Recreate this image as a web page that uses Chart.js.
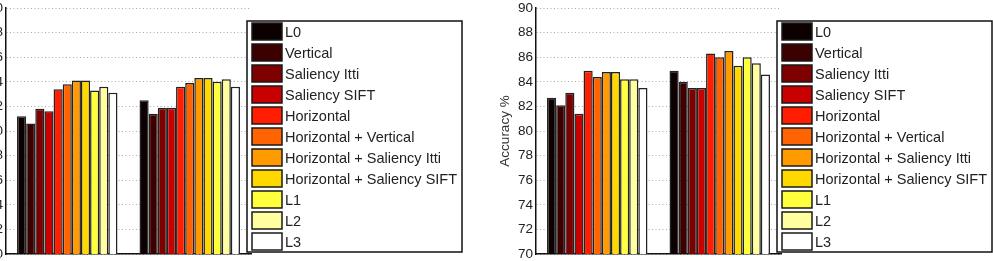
<!DOCTYPE html>
<html>
<head>
<meta charset="utf-8">
<script src="https://cdn.jsdelivr.net/npm/chart.js@4"></script>
<style>
  html, body { margin: 0; padding: 0; background: #fff; overflow: hidden; }
  body { width: 993px; height: 261px; position: relative; }
  .box { position: absolute; top: 0; width: 500px; height: 261px; }
  #leftBox { left: -37px; }
  #rightBox { left: 493px; }
</style>
</head>
<body>
<div class="box" id="leftBox"><canvas id="chart1"></canvas></div>
<div class="box" id="rightBox"><canvas id="chart2"></canvas></div>
<script>
const groups = ["1", "2"];
const methods = ["L0", "Vertical", "Saliency Itti", "Saliency SIFT", "Horizontal",
  "Horizontal + Vertical", "Horizontal + Saliency Itti", "Horizontal + Saliency SIFT", "L1", "L2", "L3"];
const colors = ["#0c0000", "#3c0000", "#7e0000", "#c80000", "#ff1e00",
  "#ff6400", "#ff9a00", "#ffd800", "#ffff3c", "#ffffa0", "#ffffff"];

// accuracy % per method, first and second group
const leftGroup1 = [81.2, 80.6, 81.8, 81.6, 83.4, 83.8, 84.1, 84.1, 83.3, 83.6, 83.1];
const leftGroup2 = [82.5, 81.4, 81.9, 81.9, 83.6, 83.9, 84.3, 84.3, 84.0, 84.2, 83.6];
const rightGroup1 = [82.7, 82.1, 83.1, 81.4, 84.9, 84.4, 84.8, 84.8, 84.2, 84.2, 83.5];
const rightGroup2 = [84.9, 84.0, 83.5, 83.5, 86.3, 86.0, 86.5, 85.3, 86.0, 85.5, 84.6];

const FONT = "'Liberation Sans', Arial, sans-serif";

// legend box drawn inside the plot, like the matlab one
const boxLegend = {
  id: "boxLegend",
  afterDraw(chart) {
    const ctx = chart.ctx;
    const x = 284, y = 21, w = 215, h = 231;
    ctx.save();
    ctx.fillStyle = "#fff";
    ctx.fillRect(x, y, w, h);
    ctx.strokeStyle = "#111";
    ctx.lineWidth = 1.5;
    ctx.strokeRect(x, y, w, h);
    ctx.font = "14.5px " + FONT;
    ctx.textBaseline = "middle";
    chart.data.datasets.forEach((ds, i) => {
      const cy = 31.5 + i * 21;
      ctx.fillStyle = ds.backgroundColor;
      ctx.fillRect(x + 5, cy - 8.5, 30, 17);
      ctx.strokeStyle = "#1a1a1a";
      ctx.lineWidth = 1.5;
      ctx.strokeRect(x + 5, cy - 8.5, 30, 17);
      ctx.fillStyle = "#222";
      ctx.fillText(ds.label, x + 38, cy + 1);
    });
    ctx.restore();
  }
};

function makeChart(id, g1, g2) {
  const datasets = methods.map((m, i) => ({
    label: m,
    data: [g1[i], g2[i]],
    backgroundColor: colors[i],
    borderColor: "#222",
    borderWidth: 1.5,
    borderSkipped: "start",
    barPercentage: 1,
    categoryPercentage: 0.82
  }));
  return new Chart(document.getElementById(id), {
    type: "bar",
    data: { labels: groups, datasets: datasets },
    plugins: [boxLegend],
    options: {
      animation: false,
      responsive: true,
      maintainAspectRatio: false,
      layout: { padding: { top: 8, right: 212, bottom: 7, left: 0 } },
      plugins: { legend: { display: false }, tooltip: { enabled: false } },
      scales: {
        x: {
          ticks: { display: false },
          grid: { display: false },
          border: { display: true, color: "#111", width: 1.5 },
          afterFit(s) { s.height = 0; s.paddingTop = 0; s.paddingBottom = 0; }
        },
        y: {
          min: 70, max: 90,
          ticks: { stepSize: 2, color: "#222", padding: 3, font: { size: 13.5, family: FONT } },
          grid: { color: "#a8a8a8", drawTicks: false },
          border: { display: true, color: "#111", width: 1.5, dash: [1, 2.5] },
          title: { display: true, text: "Accuracy %", color: "#333", padding: { top: 4, bottom: 0 }, font: { size: 13.5, family: FONT } },
          afterFit(s) { s.width = 43; s.paddingTop = 0; s.paddingBottom = 0; }
        }
      }
    }
  });
}

makeChart("chart1", leftGroup1, leftGroup2);
makeChart("chart2", rightGroup1, rightGroup2);
</script>
</body>
</html>
